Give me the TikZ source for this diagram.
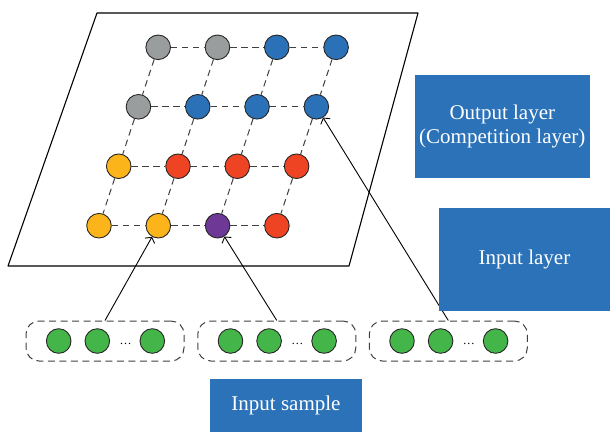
\documentclass[tikz,border=0pt]{standalone}
\usepackage{fontspec}
\setmainfont{Liberation Serif}
\usetikzlibrary{arrows.meta}

\definecolor{boxblue}{HTML}{2B72B8}
\definecolor{unitgray}{HTML}{9A9D9E}
\definecolor{unitblue}{HTML}{2B71B8}
\definecolor{unitorange}{HTML}{FBB41A}
\definecolor{unitred}{HTML}{EE4423}
\definecolor{unitpurple}{HTML}{6E3996}
\definecolor{unitgreen}{HTML}{44B649}

\begin{document}
\begin{tikzpicture}[x=1pt,y=-1pt,line join=round,>={Straight Barb[length=4pt,width=11pt]},
  unit/.style={circle,draw=black!85,line width=0.9pt,minimum size=24.6pt,inner sep=0pt},
  link/.style={draw=black!75,line width=1pt,dash pattern=on 6.5pt off 4.5pt},
  group/.style={draw=black!75,line width=1pt,dash pattern=on 7pt off 4.5pt,rounded corners=13pt,minimum width=158pt,minimum height=40pt,inner sep=0pt},
  layerbox/.style={fill=boxblue,text=white,inner sep=0pt,align=center,font=\fontsize{21}{24}\selectfont}]
\useasboundingbox (0,0) rectangle (610,432);

% map plane
\draw[line width=1.1pt] (97,13) -- (418,13) -- (349,266) -- (8,266) -- cycle;

% competition layer units
\foreach \r/\c/\col in {1/1/unitgray,1/2/unitgray,1/3/unitblue,1/4/unitblue,
  2/1/unitgray,2/2/unitblue,2/3/unitblue,2/4/unitblue,
  3/1/unitorange,3/2/unitred,3/3/unitred,3/4/unitred,
  4/1/unitorange,4/2/unitorange,4/3/unitpurple,4/4/unitred}
  \node[unit,fill=\col] (n\r\c) at ({99+59.3*(\c-1)+19.73*(4-\r)},{47.3+59.47*(\r-1)}) {};

\foreach \r in {1,...,4}
  \foreach \c/\d in {1/2,2/3,3/4}
    \draw[link] (n\r\c) -- (n\r\d);
\foreach \r/\s in {1/2,2/3,3/4}
  \foreach \c in {1,...,4}
    \draw[link] (n\r\c) -- (n\s\c);

% input samples
\foreach \i/\x in {1/105,2/276.8,3/448.3} {
  \node[group] (in\i) at (\x,341) {};
  \node[unit,fill=unitgreen] (s\i-1) at (\x-46.3,341) {};
  \node[unit,fill=unitgreen] (s\i-2) at (\x-7.7,341) {};
  \node[anchor=base,inner sep=0pt,font=\fontsize{12}{14}\selectfont] (dots\i) at (\x+20.5,344) {\dots};
  \node[unit,fill=unitgreen] (s\i-3) at (\x+47.3,341) {};
}

\draw[->,line width=0.9pt] (in1.north) -- (n42);
\draw[->,line width=0.9pt] (in2.north) -- (n43);
\draw[->,line width=0.9pt] (in3.north) -- (n24);

% labels
\node[layerbox,minimum width=174.7pt,minimum height=102.7pt] (outlay) at (502.3,126.3) {Output layer\\(Competition layer)};
\node[layerbox,minimum width=171pt,minimum height=103pt] (inlay) at (524.5,259.2) {Input layer};
\node[layerbox,minimum width=152pt,minimum height=53pt] (sample) at (286,405.5) {Input sample};

\end{tikzpicture}
\end{document}
